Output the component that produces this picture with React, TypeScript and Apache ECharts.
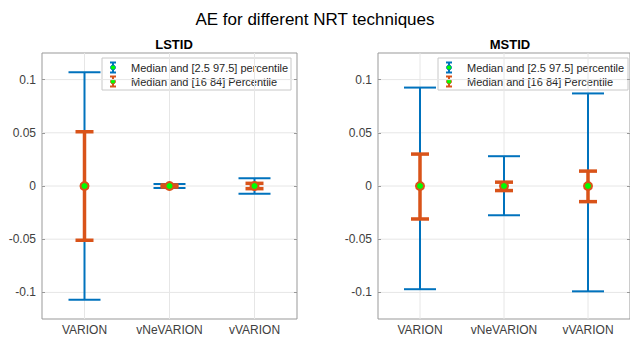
import React, { useEffect, useRef } from "react";
import * as echarts from "echarts";

const categories = ["VARION", "vNeVARION", "vVARION"];
const xPositions = [1, 2, 3];
const yTicks = [-0.1, -0.05, 0, 0.05, 0.1];

// LSTID
const lstidMedian = [0, 0, 0];
const lstidBlueLow = [-0.107, -0.0019, -0.0072];
const lstidBlueHigh = [0.107, 0.0019, 0.0072];
const lstidOrangeLow = [-0.051, -0.001, -0.0025];
const lstidOrangeHigh = [0.051, 0.001, 0.0025];

// MSTID
const mstidMedian = [0, 0, 0];
const mstidBlueLow = [-0.097, -0.0275, -0.099];
const mstidBlueHigh = [0.0925, 0.028, 0.087];
const mstidOrangeLow = [-0.031, -0.0043, -0.0147];
const mstidOrangeHigh = [0.030, 0.0036, 0.014];

const BLUE = "#0072BD";
const ORANGE = "#D95319";
const GREEN = "#00FF00";
const FONT = "Liberation Sans, Arial, sans-serif";

function errData(low: number[], high: number[], med: number[]) {
  return xPositions.map((x, i) => [x, low[i], high[i], med[i]]);
}

function errSeries(
  data: number[][],
  xi: number,
  yi: number,
  color: string,
  lw: number,
  capHalf: number,
  marker: boolean,
  z: number
) {
  return {
    type: "custom",
    xAxisIndex: xi,
    yAxisIndex: yi,
    z,
    data,
    renderItem: (params: any, api: any) => {
      const x = api.value(0);
      const lo = api.coord([x, api.value(1)]);
      const hi = api.coord([x, api.value(2)]);
      const md = api.coord([x, api.value(3)]);
      const st = { stroke: color, lineWidth: lw };
      const children: any[] = [
        { type: "line", shape: { x1: lo[0], y1: lo[1], x2: hi[0], y2: hi[1] }, style: st },
        { type: "line", shape: { x1: lo[0] - capHalf, y1: lo[1], x2: lo[0] + capHalf, y2: lo[1] }, style: st },
        { type: "line", shape: { x1: hi[0] - capHalf, y1: hi[1], x2: hi[0] + capHalf, y2: hi[1] }, style: st },
      ];
      if (marker) {
        children.push({
          type: "circle",
          shape: { cx: md[0], cy: md[1], r: 4 },
          style: { fill: GREEN, stroke: color, lineWidth: 2 },
        });
      }
      return { type: "group", children };
    },
  };
}

function gridLineSeries(xi: number, yi: number) {
  const data = [
    ...yTicks.map((v) => [0, v]),
    ...xPositions.map((v) => [1, v]),
  ];
  return {
    type: "custom",
    xAxisIndex: xi,
    yAxisIndex: yi,
    z: 0,
    silent: true,
    data,
    renderItem: (params: any, api: any) => {
      const cs = params.coordSys;
      const kind = api.value(0);
      const v = api.value(1);
      if (kind === 0) {
        const p = api.coord([1, v]);
        return {
          type: "line",
          shape: { x1: cs.x, y1: p[1], x2: cs.x + cs.width, y2: p[1] },
          style: { stroke: "#e6e6e6", lineWidth: 1 },
        };
      }
      const p = api.coord([v, 0]);
      return {
        type: "line",
        shape: { x1: p[0], y1: cs.y, x2: p[0], y2: cs.y + cs.height },
        style: { stroke: "#e6e6e6", lineWidth: 1 },
      };
    },
  };
}

function legendGroup(left: number, top: number, w: number) {
  const icon = (cx: number, cy: number, color: string) => ({
    type: "group",
    children: [
      { type: "line", shape: { x1: cx, y1: cy - 5, x2: cx, y2: cy + 5 }, style: { stroke: color, lineWidth: 2 } },
      { type: "line", shape: { x1: cx - 3, y1: cy - 5, x2: cx + 3, y2: cy - 5 }, style: { stroke: color, lineWidth: 2 } },
      { type: "line", shape: { x1: cx - 3, y1: cy + 5, x2: cx + 3, y2: cy + 5 }, style: { stroke: color, lineWidth: 2 } },
      { type: "circle", shape: { cx, cy, r: 2.5 }, style: { fill: GREEN, stroke: color, lineWidth: 1 } },
    ],
  });
  const txt = (y: number, s: string) => ({
    type: "text",
    x: left + 29,
    y,
    style: {
      text: s,
      fill: "#262626",
      fontFamily: FONT,
      fontSize: 11,
      verticalAlign: "middle",
      align: "left",
    },
  });
  return {
    type: "group",
    z: 100,
    children: [
      {
        type: "rect",
        shape: { x: left, y: top, width: w, height: 32 },
        style: { fill: "#ffffff", stroke: "#c8c8c8", lineWidth: 1 },
      },
      icon(left + 11, top + 9.5, BLUE),
      icon(left + 11, top + 23.5, ORANGE),
      txt(top + 9.5, "Median and [2.5 97.5] percentile"),
      txt(top + 23.5, "Median and [16 84] Percentile"),
    ],
  };
}

export default function App() {
  const ref = useRef<HTMLDivElement>(null);
  useEffect(() => {
    if (!ref.current) return;
    const chart = echarts.init(ref.current, undefined, { renderer: "svg" });
    const grids = [
      { left: 42, top: 53, width: 255, height: 266 },
      { left: 378, top: 53, width: 255, height: 266 },
    ].map((g) => ({ ...g, show: true, borderColor: "#999999", borderWidth: 1, backgroundColor: "#ffffff" }));

    const xAxis: any[] = [];
    const yAxis: any[] = [];
    [0, 1].forEach((gi) => {
      xAxis.push({
        type: "value", gridIndex: gi, min: 0.5, max: 3.5, position: "bottom",
        splitLine: { show: false }, axisLine: { show: false },
        axisTick: { show: true, inside: true, length: 3, customValues: xPositions, lineStyle: { color: "#999999" } },
        axisLabel: {
          customValues: xPositions, color: "#404040", fontFamily: FONT, fontSize: 12, margin: 5,
          formatter: (v: number) => categories[Math.round(v) - 1] ?? "",
        },
      });
      xAxis.push({
        type: "value", gridIndex: gi, min: 0.5, max: 3.5, position: "top",
        splitLine: { show: false }, axisLine: { show: false }, axisLabel: { show: false },
        axisTick: { show: true, inside: true, length: 3, customValues: xPositions, lineStyle: { color: "#999999" } },
      });
      yAxis.push({
        type: "value", gridIndex: gi, min: -0.125, max: 0.125, position: "left",
        splitLine: { show: false }, axisLine: { show: false },
        axisTick: { show: true, inside: true, length: 3, customValues: yTicks, lineStyle: { color: "#999999" } },
        axisLabel: { customValues: yTicks, color: "#404040", fontFamily: FONT, fontSize: 12, margin: 6 },
      });
      yAxis.push({
        type: "value", gridIndex: gi, min: -0.125, max: 0.125, position: "right",
        splitLine: { show: false }, axisLine: { show: false }, axisLabel: { show: false },
        axisTick: { show: true, inside: true, length: 3, customValues: yTicks, lineStyle: { color: "#999999" } },
      });
    });

    chart.setOption({
      animation: false,
      backgroundColor: "#ffffff",
      title: [
        { text: "AE for different NRT techniques", left: "center", top: 6, textStyle: { fontFamily: FONT, fontSize: 17, fontWeight: "normal", color: "#000000" } },
        { text: "LSTID", left: 169, textAlign: "center", top: 33, textStyle: { fontFamily: FONT, fontSize: 13, fontWeight: "bold", color: "#000000" } },
        { text: "MSTID", left: 505, textAlign: "center", top: 33, textStyle: { fontFamily: FONT, fontSize: 13, fontWeight: "bold", color: "#000000" } },
      ],
      grid: grids,
      xAxis,
      yAxis,
      series: [
        gridLineSeries(0, 0),
        gridLineSeries(2, 2),
        errSeries(errData(lstidBlueLow, lstidBlueHigh, lstidMedian), 0, 0, BLUE, 2, 16, false, 2),
        errSeries(errData(lstidOrangeLow, lstidOrangeHigh, lstidMedian), 0, 0, ORANGE, 3.5, 9, true, 3),
        errSeries(errData(mstidBlueLow, mstidBlueHigh, mstidMedian), 2, 2, BLUE, 2, 16, false, 2),
        errSeries(errData(mstidOrangeLow, mstidOrangeHigh, mstidMedian), 2, 2, ORANGE, 3.5, 9, true, 3),
      ],
      graphic: [legendGroup(102, 58, 189), legendGroup(438, 58, 190)],
    });
    return () => chart.dispose();
  }, []);
  return <div ref={ref} style={{ position: "fixed", left: 0, top: 0, width: 630, height: 338 }} />;
}
